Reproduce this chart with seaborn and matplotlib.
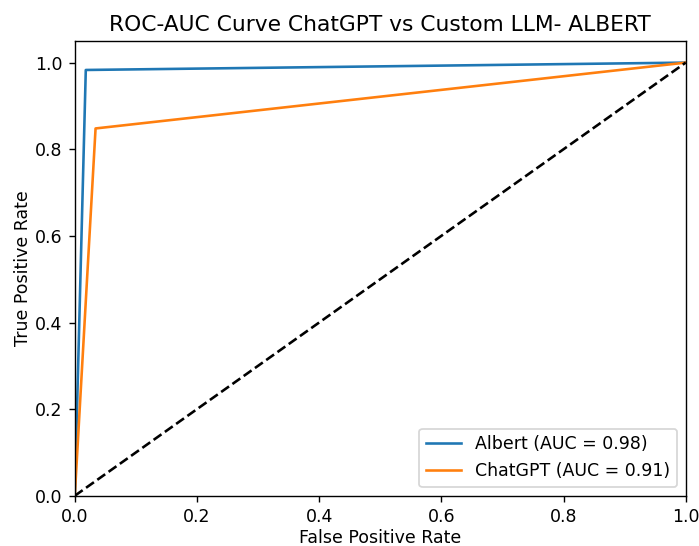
import seaborn as sns
import matplotlib.pyplot as plt
import pandas as pd

# ROC points
albert_fpr = [0.0, 0.018, 1.0]
albert_tpr = [0.0, 0.983, 1.0]
chatgpt_fpr = [0.0, 0.034, 1.0]
chatgpt_tpr = [0.0, 0.848, 1.0]
albert_auc = 0.98
chatgpt_auc = 0.91

df = pd.concat([
    pd.DataFrame({'fpr': albert_fpr, 'tpr': albert_tpr, 'model': f'Albert (AUC = {albert_auc:.2f})'}),
    pd.DataFrame({'fpr': chatgpt_fpr, 'tpr': chatgpt_tpr, 'model': f'ChatGPT (AUC = {chatgpt_auc:.2f})'}),
])

# rendered at a higher dpi so text and lines come out larger
dpi = 125
fig, ax = plt.subplots(figsize=(699 / dpi, 546 / dpi), dpi=dpi)
sns.lineplot(data=df, x='fpr', y='tpr', hue='model', sort=False, estimator=None,
             palette=['#1f77b4', '#ff7f0e'], ax=ax)
ax.plot([0, 1], [0, 1], 'k--')

ax.set_xlim([0.0, 1.0])
ax.set_ylim([0.0, 1.05])
ax.set_xlabel('False Positive Rate', labelpad=2)
ax.set_ylabel('True Positive Rate', labelpad=2)
ax.set_title('ROC-AUC Curve ChatGPT vs Custom LLM- ALBERT', fontsize=12.5)
ax.legend(loc='lower right')

fig.subplots_adjust(left=0.107, right=0.981, top=0.925, bottom=0.092)
plt.savefig('out.png', dpi=dpi)
